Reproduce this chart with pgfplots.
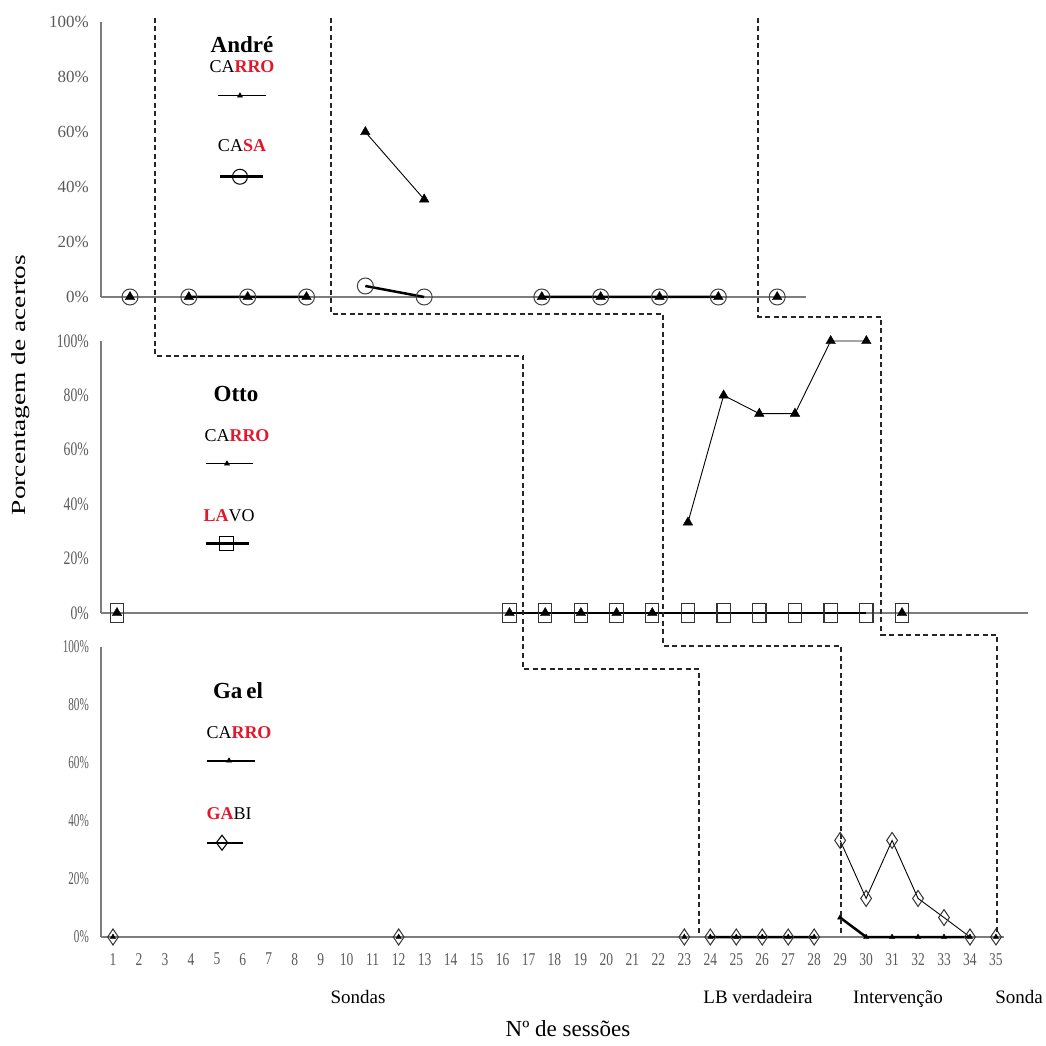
\documentclass[border=0pt]{standalone}
\usepackage{pgfplots}
\pgfplotsset{compat=1.18}
\usepackage{fontspec}
\setmainfont{Liberation Serif}
\usepackage{graphicx}
\definecolor{wred}{RGB}{226,24,42}
\definecolor{axgray}{RGB}{125,125,125}
\definecolor{tkgray}{RGB}{90,90,90}
\newcommand{\fs}[1]{\fontsize{#1}{#1}\selectfont}
\newcommand{\ca}[2]{#1\textbf{\color{wred}#2}}
\newcommand{\cb}[2]{\textbf{\color{wred}#1}#2}

\pgfplotsset{
  panel/.style={
    scale only axis, clip=false,
    axis lines=left, axis line style={-, axgray, line width=1.4pt},
    ymin=0, ymax=100, ytick={0,20,40,60,80,100},
    major tick length=0pt, tick style={draw=none},
    yticklabel style={anchor=east, inner sep=0pt, xshift=-12pt, text=tkgray},
    xtick=\empty,
    unbounded coords=jump,
    legend style={draw=none, fill=none, inner sep=0pt, outer sep=0pt,
      nodes={inner sep=0pt}, anchor=north west},
  },
  thinline/.style={black, line width=0.9pt},
  thickline/.style={black, line width=2.5pt},
}

\begin{document}
\begin{tikzpicture}
\useasboundingbox (0,0) rectangle (1046pt,1045pt);

% ---------------- André ----------------
\begin{axis}[panel, at={(101pt,748pt)}, anchor=south west, width=705pt, height=275pt,
  xmin=0.507, xmax=12.49,
  yticklabel style={font=\fs{17}},
  yticklabels={0\%,20\%,40\%,60\%,80\%,100\%},
  legend style={at={(0.1404,0.7891)}}]
% CASA
\addplot[thickline, forget plot, mark=o, mark size=8pt, mark options={line width=1pt, black!75}]
  coordinates {(1,0) (1.5,nan) (2,0) (3,0) (4,0) (4.5,nan) (5,4) (6,0) (7,nan) (8,0) (9,0) (10,0) (11,0) (11.5,nan) (12,0)};
% CARRO
\addplot[thinline, forget plot, mark=triangle*, mark size=5.5pt, mark options={fill=black, line width=0.4pt}]
  coordinates {(1,0) (1.5,nan) (2,0) (3,0) (4,0) (4.5,nan) (5,60) (6,35.5) (7,nan) (8,0) (9,0) (10,0) (11,0) (11.5,nan) (12,0)};
\addlegendimage{legend image code/.code={
  \path[draw=none, fill=none] (0pt,0pt) rectangle (80pt,-110pt);
  \draw[black, line width=1.4pt] (18pt,-15pt) -- (66pt,-15pt);
  \draw[black, fill=black] plot[only marks, mark=triangle*, mark size=3pt] coordinates {(40pt,-15pt)};
  \draw[black, line width=2.6pt] (20pt,-96pt) -- (63pt,-96pt);
  \draw[black, line width=1pt] plot[only marks, mark=o, mark size=7.5pt] coordinates {(40pt,-96pt)};
}}
\addlegendentry{}
\end{axis}

% ---------------- Otto ----------------
\begin{axis}[panel, at={(101pt,432pt)}, anchor=south west, width=927pt, height=272pt,
  xmin=0.552, xmax=26.53,
  yticklabel style={font=\fs{19}},
  yticklabels={\scalebox{0.72}[1]{0\%},\scalebox{0.72}[1]{20\%},\scalebox{0.72}[1]{40\%},\scalebox{0.72}[1]{60\%},\scalebox{0.72}[1]{80\%},\scalebox{0.72}[1]{100\%}},
  legend style={at={(0.1014,0.5993)}}]
% LAVO
\addplot[thickline, forget plot, mark=square, mark size=9.5pt, mark options={line width=1.1pt, black!80, xscale=0.7}]
  coordinates {(1,0) (1.5,nan) (12,0) (13,0) (14,0) (15,0) (16,0) (17,0) (18,0) (19,0) (20,0) (21,0) (22,0) (22.5,nan) (23,0)};
% CARRO
\addplot[thinline, forget plot, mark=triangle*, mark size=5.5pt, mark options={fill=black, line width=0.4pt}]
  coordinates {(1,0) (1.5,nan) (12,0) (13,0) (14,0) (15,0) (16,0) (16.5,nan) (17,33.3) (18,80) (19,73.3) (20,73.3) (21,100) (22,100) (22.5,nan) (23,0)};
\addlegendimage{legend image code/.code={
  \path[draw=none, fill=none] (0pt,0pt) rectangle (80pt,-110pt);
  \draw[black, line width=1.4pt] (11pt,-13pt) -- (58pt,-13pt);
  \draw[black, fill=black] plot[only marks, mark=triangle*, mark size=3pt] coordinates {(32pt,-13pt)};
  \draw[black, line width=2.6pt] (11pt,-93pt) -- (54pt,-93pt);
  \draw[black, line width=1pt] plot[only marks, mark=square, mark size=7pt] coordinates {(32pt,-93pt)};
}}
\addlegendentry{}
\end{axis}

% ---------------- Gael ----------------
\begin{axis}[panel, at={(101pt,108pt)}, anchor=south west, width=903pt, height=290pt,
  xmin=0.538, xmax=35.31,
  yticklabel style={font=\fs{18}},
  yticklabels={\scalebox{0.62}[1]{0\%},\scalebox{0.62}[1]{20\%},\scalebox{0.62}[1]{40\%},\scalebox{0.62}[1]{60\%},\scalebox{0.62}[1]{80\%},\scalebox{0.62}[1]{100\%}},
  xtick={1,...,35},
  xticklabel={\scalebox{0.75}[1]{\pgfmathprintnumber[assume math mode=true]{\tick}}},
  xticklabel style={font=\fs{18}, text=tkgray, anchor=north, inner sep=0pt, yshift=-16pt},
  legend style={at={(0.1041,0.6621)}}]
% GABI
\addplot[thinline, forget plot, mark=diamond, mark size=8pt, mark options={line width=1pt, black!80, xscale=0.9}]
  coordinates {(1,0) (1.5,nan) (12,0) (12.5,nan) (23,0) (23.5,nan) (24,0) (25,0) (26,0) (27,0) (28,0) (28.5,nan) (29,33.3) (30,13.3) (31,33.3) (32,13.3) (33,6.7) (34,0) (34.5,nan) (35,0)};
% CARRO
\addplot[thickline, forget plot, mark=triangle*, mark size=3pt, mark options={fill=black, line width=0.4pt}]
  coordinates {(1,0) (1.5,nan) (12,0) (12.5,nan) (23,0) (23.5,nan) (24,0) (25,0) (26,0) (27,0) (28,0) (28.5,nan) (29,6.7) (30,0) (31,0) (32,0) (33,0) (34,0) (34.5,nan) (35,0)};
\addlegendimage{legend image code/.code={
  \path[draw=none, fill=none] (0pt,0pt) rectangle (80pt,-110pt);
  \draw[black, line width=1.6pt] (12pt,-15pt) -- (60pt,-15pt);
  \draw[black, fill=black] plot[only marks, mark=triangle*, mark size=3pt] coordinates {(34pt,-15pt)};
  \draw[black, line width=1.6pt] (12pt,-97pt) -- (48pt,-97pt);
  \draw[black, line width=1.1pt, fill=white] plot[only marks, mark=diamond, mark size=7.5pt] coordinates {(27pt,-97pt)};
}}
\addlegendentry{}
\end{axis}

% ---------------- annotations (page pixel frame) ----------------
\begin{scope}[yshift=1045pt, x=1pt, y=-1pt]
  \tikzset{phase/.style={draw=black!85, line width=1.2pt, dash pattern=on 5pt off 3.5pt}}
  \draw[phase] (155,18) -- (155,356) -- (523,356) -- (523,669) -- (699,669) -- (699,935);
  \draw[phase] (331,18) -- (331,314) -- (663,314) -- (663,646) -- (841,646) -- (841,935);
  \draw[phase] (758,18) -- (758,317) -- (881,317) -- (881,635) -- (997,635) -- (997,935);

  % panel titles and legend labels
  \node[anchor=base, inner sep=0pt] at (242,53) {\fs{23}\textbf{André}};
  \node[anchor=base, inner sep=0pt] at (242,73) {\fs{18}\ca{CA}{RRO}};
  \node[anchor=base, inner sep=0pt] at (242,152) {\fs{18}\ca{CA}{SA}};

  \node[anchor=base, inner sep=0pt] at (236,402) {\fs{23}\textbf{Otto}};
  \node[anchor=base, inner sep=0pt] at (237,442) {\fs{18}\ca{CA}{RRO}};
  \node[anchor=base, inner sep=0pt] at (229,522) {\fs{18}\cb{LA}{VO}};

  \node[anchor=base, inner sep=0pt] at (238,698) {\fs{23}\textbf{Ga\kern4pt el}};
  \node[anchor=base, inner sep=0pt] at (239,738) {\fs{18}\ca{CA}{RRO}};
  \node[anchor=base, inner sep=0pt] at (229,819) {\fs{18}\cb{GA}{BI}};

  % phase names
  \node[anchor=base, inner sep=0pt] at (358,1003) {\fs{19}Sondas};
  \node[anchor=base, inner sep=0pt] at (758,1003) {\fs{19}LB verdadeira};
  \node[anchor=base, inner sep=0pt] at (898,1003) {\fs{19}Intervenção};
  \node[anchor=base, inner sep=0pt] at (1019,1003) {\fs{19}Sonda};

  % axis titles
  \node[anchor=base, inner sep=0pt] at (568,1036) {\fs{23}Nº de sessões};
  \node[rotate=90, inner sep=0pt] at (21,385) {\scalebox{1.37}[1]{\fs{20}Porcentagem de acertos}};
\end{scope}
\end{tikzpicture}
\end{document}
